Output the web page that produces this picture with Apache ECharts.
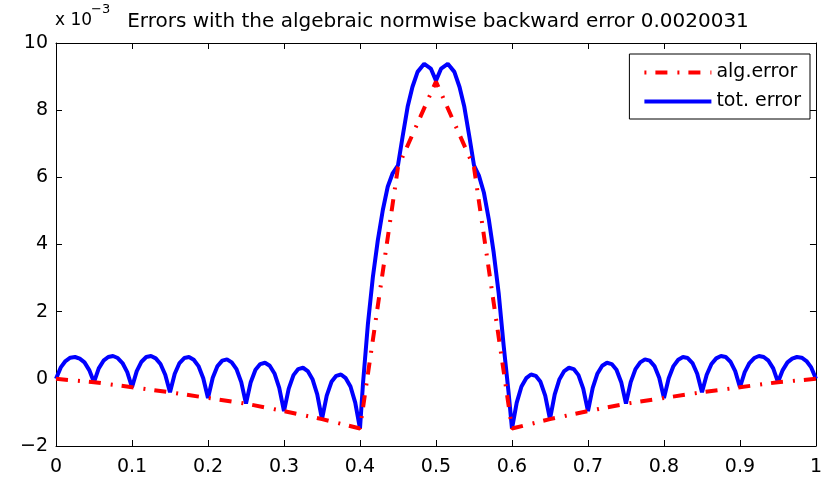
<!DOCTYPE html>
<html>
<head>
<meta charset="utf-8">
<script src="https://cdn.jsdelivr.net/npm/echarts@6/dist/echarts.min.js"></script>
<style>html,body{margin:0;padding:0;background:#fff;}#c{width:825px;height:477px;}</style>
</head>
<body>
<div id="c"></div>
<script>
const titleText = 'Errors with the algebraic normwise backward error 0.0020031';
const xTicks = ['0','0.1','0.2','0.3','0.4','0.5','0.6','0.7','0.8','0.9','1'];

const algX = [0,0.05,0.1,0.15,0.2,0.25,0.3,0.35,0.4,0.45,0.5,0.55,0.6,0.65,0.7,0.75,0.8,0.85,0.9,0.95,1];
const algY = [0,-0.10,-0.25,-0.40,-0.57,-0.74,-0.96,-1.20,-1.48,6.30,8.85,6.30,-1.48,-1.20,-0.96,-0.74,-0.57,-0.40,-0.25,-0.10,0];

const totX = [
  0,0.00625,0.0125,0.01875,0.025,0.03125,0.0375,0.04375,0.05,
  0.05625,0.0625,0.06875,0.075,0.08125,0.0875,0.09375,0.1,
  0.10625,0.1125,0.11875,0.125,0.13125,0.1375,0.14375,0.15,
  0.15625,0.1625,0.16875,0.175,0.18125,0.1875,0.19375,0.2,
  0.20625,0.2125,0.21875,0.225,0.23125,0.2375,0.24375,0.25,
  0.25625,0.2625,0.26875,0.275,0.28125,0.2875,0.29375,0.3,
  0.30625,0.3125,0.31875,0.325,0.33125,0.3375,0.34375,0.35,
  0.35625,0.3625,0.36875,0.375,0.38125,0.3875,0.39375,0.4,
  0.404,0.4105,0.417,0.4235,0.43,0.4365,0.443,0.45,
  0.456,0.4627,0.469,0.4758,0.4845,0.4932,0.5,
  0.5068,0.5155,0.5242,0.531,0.5373,0.544,0.55,
  0.5565,0.563,0.5695,0.576,0.5825,0.589,0.5955,0.6,
  0.60625,0.6125,0.61875,0.625,0.63125,0.6375,0.64375,0.65,
  0.65625,0.6625,0.66875,0.675,0.68125,0.6875,0.69375,0.7,
  0.70625,0.7125,0.71875,0.725,0.73125,0.7375,0.74375,0.75,
  0.75625,0.7625,0.76875,0.775,0.78125,0.7875,0.79375,0.8,
  0.80625,0.8125,0.81875,0.825,0.83125,0.8375,0.84375,0.85,
  0.85625,0.8625,0.86875,0.875,0.88125,0.8875,0.89375,0.9,
  0.90625,0.9125,0.91875,0.925,0.93125,0.9375,0.94375,0.95,
  0.95625,0.9625,0.96875,0.975,0.98125,0.9875,0.99375,1
];
const totY = [
  0,0.34,0.53,0.63,0.65,0.60,0.49,0.26,-0.10,
  0.31,0.54,0.65,0.68,0.62,0.47,0.20,-0.25,
  0.23,0.51,0.65,0.68,0.61,0.44,0.12,-0.40,
  0.15,0.47,0.62,0.65,0.57,0.38,0.02,-0.57,
  0.03,0.38,0.54,0.58,0.49,0.29,-0.10,-0.74,
  -0.10,0.27,0.44,0.48,0.39,0.16,-0.27,-0.96,
  -0.29,0.11,0.29,0.33,0.23,-0.01,-0.46,-1.20,
  -0.50,-0.09,0.09,0.13,0.02,-0.23,-0.71,-1.48,
  -0.13,1.65,3.04,4.13,5.02,5.72,6.12,6.36,
  7.20,8.10,8.69,9.14,9.38,9.24,8.88,
  9.24,9.38,9.14,8.69,8.10,7.20,6.36,
  6.05,5.55,4.75,3.75,2.55,1.00,-0.40,-1.48,
  -0.71,-0.23,0.02,0.13,0.09,-0.09,-0.50,-1.20,
  -0.46,-0.01,0.23,0.33,0.29,0.11,-0.29,-0.96,
  -0.27,0.16,0.39,0.48,0.44,0.27,-0.10,-0.74,
  -0.10,0.29,0.49,0.58,0.54,0.38,0.03,-0.57,
  0.02,0.38,0.57,0.65,0.62,0.47,0.15,-0.40,
  0.12,0.44,0.61,0.68,0.65,0.51,0.23,-0.25,
  0.20,0.47,0.62,0.68,0.65,0.54,0.31,-0.10,
  0.26,0.49,0.60,0.65,0.63,0.53,0.34,0
];

const FONT = '"DejaVu Sans", Verdana, sans-serif';
const zip = (xs, ys) => xs.map((x, i) => [x, ys[i]]);

const chart = echarts.init(document.getElementById('c'), null, {renderer: 'canvas'});

const axisCommon = {
  type: 'value',
  axisLine: {show: true, onZero: false, lineStyle: {color: '#000', width: 1}},
  axisTick: {show: true, inside: true, length: 6, lineStyle: {color: '#000'}},
  splitLine: {show: false}
};

chart.setOption({
  animation: false,
  backgroundColor: '#fff',
  title: {
    text: titleText,
    left: 438, top: 12, textAlign: 'center', padding: 0,
    textStyle: {fontFamily: FONT, fontSize: 20, lineHeight: 20, fontWeight: 'normal', color: '#000'}
  },
  graphic: [
    {type: 'text', left: 55, top: 12, style: {text: 'x 10', font: '17px ' + FONT, fill: '#000'}},
    {type: 'text', left: 91, top: 3, style: {text: '\u22123', font: '13px ' + FONT, fill: '#000'}}
  ],
  legend: {
    orient: 'vertical', right: 15, top: 54,
    padding: [9, 9, 8, 13], itemGap: 10, itemWidth: 67, itemHeight: 18, itemTextGap: 7,
    borderColor: '#000', borderWidth: 1, backgroundColor: '#fff',
    itemStyle: {opacity: 0},
    lineStyle: {width: 4},
    textStyle: {fontFamily: FONT, fontSize: 19, color: '#000'},
    data: [
      {name: 'alg.error', lineStyle: {width: 4, type: [12, 10, 2, 9], dashOffset: 22}},
      {name: 'tot. error', lineStyle: {width: 4}}
    ]
  },
  grid: {left: 56, right: 5, top: 43, bottom: 31, containLabel: false},
  xAxis: [
    Object.assign({}, axisCommon, {
      position: 'bottom', min: 0, max: 1, interval: 0.1,
      axisLabel: {margin: 12, fontFamily: FONT, fontSize: 19, color: '#000',
        formatter: v => xTicks[Math.round(v * 10)]}
    }),
    Object.assign({}, axisCommon, {
      position: 'top', min: 0, max: 1, interval: 0.1, axisLabel: {show: false}
    })
  ],
  yAxis: [
    Object.assign({}, axisCommon, {
      position: 'left', min: -2, max: 10, interval: 2,
      axisLabel: {margin: 8, fontFamily: FONT, fontSize: 19, color: '#000',
        formatter: v => String(v).replace('-', '\u2212')}
    }),
    Object.assign({}, axisCommon, {
      position: 'right', min: -2, max: 10, interval: 2, axisLabel: {show: false}
    })
  ],
  series: [
    {
      name: 'alg.error', type: 'line', z: 3, symbol: 'none', clip: false,
      data: zip(algX, algY),
      lineStyle: {color: '#ff0000', width: 4, type: [12, 10, 2, 9]},
      itemStyle: {color: '#ff0000'}
    },
    {
      name: 'tot. error', type: 'line', z: 2, symbol: 'none', clip: false,
      data: zip(totX, totY),
      lineStyle: {color: '#0000ff', width: 4},
      itemStyle: {color: '#0000ff'}
    }
  ]
});
</script>
</body>
</html>
